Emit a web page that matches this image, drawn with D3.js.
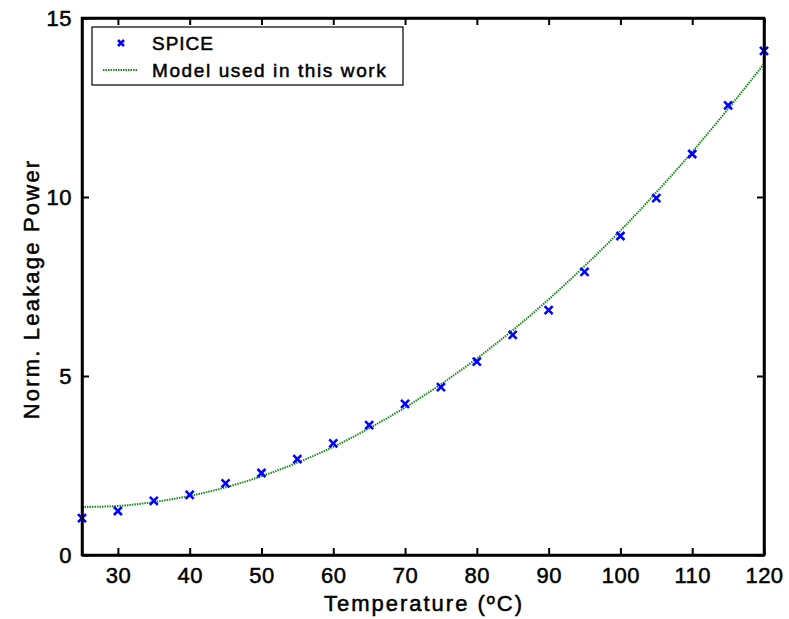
<!DOCTYPE html>
<html><head><meta charset="utf-8">
<script src="https://cdn.jsdelivr.net/npm/d3@7"></script>
<style>body{margin:0;background:#fff}svg{display:block}text{font-family:"Liberation Sans",Arial,sans-serif;fill:#000;stroke:#000;stroke-width:0.5px}</style>
</head><body><svg id="c" width="789" height="619"></svg>
<script>
const spiceTemp = [25,30,35,40,45,50,55,60,65,70,75,80,85,90,95,100,105,110,115,120];
const spiceValues = [1.03,1.23,1.51,1.68,2.0,2.29,2.68,3.12,3.63,4.22,4.69,5.40,6.15,6.84,7.91,8.91,9.97,11.2,12.56,14.08];
const modelTemp = [25,30,35,40,45,50,55,60,65,70,75,80,85,90,95,100,105,110,115,120];
const modelValues = [1.34,1.37,1.48,1.65,1.89,2.20,2.58,3.02,3.54,4.12,4.77,5.49,6.28,7.14,8.07,9.06,10.13,11.26,12.46,13.72];
const xTicks = [30,40,50,60,70,80,90,100,110,120];
const yTicks = [0,5,10,15];
const legendLabels = ["SPICE","Model used in this work"];

const svg = d3.select("#c");
const L=82, R=764, T=18, B=555;
const x = d3.scaleLinear().domain([25,120]).range([L,R]);
const y = d3.scaleLinear().domain([0,15]).range([B,T]);

// model line
svg.append("path")
  .datum(modelTemp.map((t,i)=>[t,modelValues[i]]))
  .attr("fill","none").attr("stroke","#1a8c1a").attr("stroke-width",2)
  .attr("stroke-dasharray","1.5,1")
  .attr("d", d3.line().x(d=>x(d[0])).y(d=>y(d[1])).curve(d3.curveMonotoneX));

// markers
const ms=4;
const g = svg.append("g");
spiceTemp.forEach((t,i)=>{
  const cx=x(t), cy=y(spiceValues[i]);
  g.append("path").attr("d",`M${cx-ms},${cy-ms}L${cx+ms},${cy+ms}M${cx-ms},${cy+ms}L${cx+ms},${cy-ms}`)
   .attr("stroke","#0000ff").attr("stroke-width",2.6).attr("fill","none");
});

// axes
const tl=7;
const axB = svg.append("g").attr("transform",`translate(0,${B})`)
  .call(d3.axisBottom(x).tickValues(xTicks).tickSizeInner(-tl).tickSizeOuter(0).tickPadding(12));
const axT = svg.append("g").attr("transform",`translate(0,${T})`)
  .call(d3.axisTop(x).tickValues(xTicks).tickSizeInner(-tl).tickSizeOuter(0).tickFormat(""));
const axL = svg.append("g").attr("transform",`translate(${L},0)`)
  .call(d3.axisLeft(y).tickValues(yTicks).tickSizeInner(-tl).tickSizeOuter(0).tickPadding(10));
const axR = svg.append("g").attr("transform",`translate(${R},0)`)
  .call(d3.axisRight(y).tickValues(yTicks).tickSizeInner(-tl).tickSizeOuter(0).tickFormat(""));
[axB,axT,axL,axR].forEach(a=>{
  a.select(".domain").attr("stroke","#000").attr("stroke-width",2.5);
  a.selectAll(".tick line").attr("stroke","#000").attr("stroke-width",2);
  a.selectAll(".tick text").attr("font-size",22).attr("font-family","Liberation Sans, Arial, sans-serif")
    .attr("fill","#000").attr("stroke","#000").attr("stroke-width",0.5).attr("letter-spacing","0.5");
});
axB.selectAll(".tick text").attr("dy","0.71em");
svg.append("rect").attr("x",L).attr("y",T).attr("width",R-L).attr("height",B-T)
  .attr("fill","none").attr("stroke","#000").attr("stroke-width",2.5);

// titles
svg.append("text").attr("x",(L+R)/2+1).attr("y",611).attr("text-anchor","middle")
  .attr("font-size",22).attr("letter-spacing","2").text("Temperature (ºC)");
svg.append("text").attr("transform","translate(39,289) rotate(-90)").attr("text-anchor","middle")
  .attr("font-size",22).attr("letter-spacing","2.2").text("Norm. Leakage Power");

// legend
svg.append("rect").attr("x",92).attr("y",27).attr("width",311).attr("height",58)
  .attr("fill","#fff").attr("stroke","#000").attr("stroke-width",1.2);
const lx=121, ly1=43;
svg.append("path").attr("d",`M${lx-3},${ly1-3}L${lx+3},${ly1+3}M${lx-3},${ly1+3}L${lx+3},${ly1-3}`)
  .attr("stroke","#0000ff").attr("stroke-width",2.6);
svg.append("line").attr("x1",103).attr("x2",137).attr("y1",70).attr("y2",70)
  .attr("stroke","#1a8c1a").attr("stroke-width",2).attr("stroke-dasharray","1.5,1");
svg.append("text").attr("x",152).attr("y",50).attr("font-size",19).attr("letter-spacing","1").text(legendLabels[0]);
svg.append("text").attr("x",152).attr("y",77).attr("font-size",19).attr("letter-spacing","1.6").text(legendLabels[1]);
</script></body></html>
